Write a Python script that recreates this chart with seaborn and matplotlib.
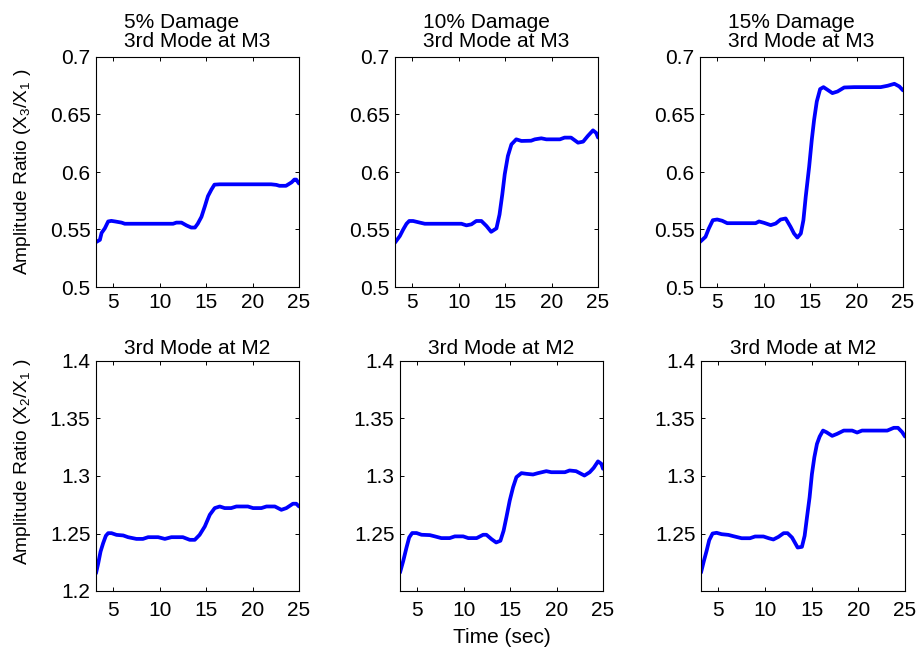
import matplotlib
matplotlib.use("Agg")
import matplotlib.pyplot as plt
from matplotlib.ticker import FuncFormatter
import seaborn as sns
import pandas as pd

# Time axis (sec) and amplitude ratios for each damage level
t_m3_5 = [3.15, 3.57, 3.75, 4.1, 4.46, 4.8, 5.2, 5.9, 6.25, 8.0, 11.45, 11.8, 12.35, 12.9, 13.4, 13.8,
          14.1, 14.5, 14.86, 15.2, 15.57, 15.9, 16.47, 19.0, 22.0, 22.56, 22.9, 23.6, 24.2, 24.5, 24.7, 25.0]
r_m3_5 = [0.539, 0.541, 0.547, 0.551, 0.557, 0.5575, 0.557, 0.556, 0.555, 0.555, 0.555, 0.556, 0.556, 0.5535,
          0.5517, 0.5517, 0.555, 0.561, 0.570, 0.579, 0.5847, 0.589, 0.5893, 0.5893, 0.5893, 0.5888, 0.588,
          0.588, 0.591, 0.5934, 0.5934, 0.590]

t_m3_10 = [3.15, 3.67, 4.03, 4.39, 4.68, 5.1, 5.82, 6.36, 8.5, 10.3, 10.84, 11.38, 11.9, 12.45, 13.0, 13.5,
           14.07, 14.4, 14.7, 14.96, 15.3, 15.68, 16.2, 16.76, 17.8, 18.2, 18.9, 19.44, 20.9, 21.4, 22.1,
           22.85, 23.4, 23.9, 24.46, 24.8, 25.0]
r_m3_10 = [0.5386, 0.5443, 0.550, 0.555, 0.5574, 0.5574, 0.556, 0.555, 0.555, 0.555, 0.5536, 0.5545, 0.5574,
           0.5574, 0.553, 0.548, 0.551, 0.563, 0.5806, 0.598, 0.6139, 0.624, 0.6284, 0.627, 0.6272, 0.6284,
           0.6293, 0.6284, 0.6284, 0.6299, 0.6299, 0.6255, 0.6264, 0.6313, 0.6362, 0.634, 0.630]

t_m3_15 = [3.15, 3.74, 4.1, 4.53, 5.0, 5.54, 6.08, 9.14, 9.5, 10.04, 10.76, 11.3, 11.83, 12.37, 12.9, 13.27,
           13.63, 14.0, 14.28, 14.53, 14.9, 15.18, 15.43, 15.72, 16.08, 16.44, 16.87, 17.4, 17.95, 18.67,
           19.75, 22.6, 23.35, 24.07, 24.6, 25.0]
r_m3_15 = [0.5392, 0.5436, 0.5509, 0.5581, 0.5587, 0.5576, 0.5555, 0.5555, 0.557, 0.5558, 0.5538, 0.5552,
           0.5587, 0.5596, 0.5523, 0.5465, 0.543, 0.5465, 0.5581, 0.5785, 0.6047, 0.6279, 0.6453, 0.6613,
           0.6721, 0.6738, 0.6715, 0.6686, 0.670, 0.6735, 0.6738, 0.6738, 0.675, 0.6767, 0.6744, 0.671]

t_m2_5 = [3.15, 3.39, 3.64, 3.92, 4.21, 4.46, 4.82, 5.36, 6.08, 6.6, 7.5, 8.2, 8.76, 9.84, 10.56, 11.27,
          12.5, 13.24, 13.78, 14.3, 14.86, 15.4, 15.93, 16.47, 17.0, 17.7, 18.26, 19.5, 20.05, 20.95, 21.5,
          22.4, 23.1, 23.64, 24.35, 24.7, 25.0]
r_m2_5 = [1.2154, 1.2241, 1.2343, 1.2416, 1.248, 1.2503, 1.2503, 1.2488, 1.2483, 1.2468, 1.2453, 1.2453,
          1.2468, 1.2468, 1.2453, 1.2468, 1.2468, 1.2445, 1.2445, 1.2488, 1.2561, 1.2663, 1.2721, 1.2735,
          1.2721, 1.2721, 1.2735, 1.2735, 1.2721, 1.2721, 1.2735, 1.2735, 1.2706, 1.2721, 1.2759, 1.2759,
          1.2735]

t_m2_10 = [3.15, 3.5, 3.85, 4.14, 4.46, 4.93, 5.47, 6.36, 6.9, 7.6, 8.5, 9.05, 9.95, 10.5, 11.4, 12.1, 12.45,
           13.0, 13.5, 13.96, 14.3, 14.6, 14.96, 15.32, 15.68, 16.22, 16.76, 17.47, 18.0, 18.9, 19.44, 20.9,
           21.4, 22.1, 23.0, 23.57, 24.0, 24.46, 24.82, 25.0]
r_m2_10 = [1.216, 1.2262, 1.2378, 1.2466, 1.2504, 1.2504, 1.2489, 1.2486, 1.2475, 1.246, 1.246, 1.2475,
           1.2475, 1.246, 1.246, 1.2489, 1.2489, 1.2451, 1.2422, 1.2437, 1.2524, 1.264, 1.2786, 1.2902,
           1.299, 1.3025, 1.3019, 1.3013, 1.3025, 1.3042, 1.3033, 1.3033, 1.3048, 1.3042, 1.3004, 1.3033,
           1.3071, 1.3127, 1.3106, 1.3063]

t_m2_15 = [3.15, 3.46, 3.75, 4.03, 4.39, 4.82, 5.36, 6.08, 6.6, 7.5, 8.4, 8.94, 9.84, 10.4, 10.9, 11.45,
           12.0, 12.42, 12.9, 13.24, 13.5, 13.96, 14.25, 14.5, 14.78, 15.03, 15.29, 15.57, 15.86, 16.22,
           16.58, 17.2, 17.72, 18.44, 19.34, 19.87, 20.4, 23.1, 23.8, 24.25, 24.7, 25.0]
r_m2_15 = [1.216, 1.2262, 1.2349, 1.2442, 1.25, 1.2506, 1.2494, 1.2488, 1.2477, 1.2459, 1.2459, 1.2474,
           1.2474, 1.2459, 1.2448, 1.2471, 1.2503, 1.2503, 1.2465, 1.2416, 1.2378, 1.2384, 1.248, 1.264,
           1.2814, 1.3017, 1.3163, 1.3279, 1.3343, 1.3395, 1.3381, 1.3349, 1.3366, 1.3395, 1.3395, 1.3378,
           1.3395, 1.3395, 1.3419, 1.3419, 1.3381, 1.3343]

top_titles = ["5% Damage\n3rd Mode at M3", "10% Damage\n3rd Mode at M3", "15% Damage\n3rd Mode at M3"]
bottom_title = "3rd Mode at M2"
x_ticks = [5, 10, 15, 20, 25]
y_ticks_m3 = [0.5, 0.55, 0.6, 0.65, 0.7]
y_ticks_m2_full = [1.2, 1.25, 1.3, 1.35, 1.4]
y_ticks_m2 = [1.25, 1.3, 1.35, 1.4]

sns.set_theme(style="white")
plt.rcParams.update({
    "font.family": ["Liberation Sans", "DejaVu Sans"],
    "mathtext.default": "regular",
    "axes.edgecolor": "black",
    "axes.linewidth": 0.8,
    "xtick.direction": "in",
    "ytick.direction": "in",
    "xtick.top": True,
    "ytick.right": True,
    "xtick.bottom": True,
    "ytick.left": True,
    "xtick.major.size": 3,
    "ytick.major.size": 3,
    "xtick.major.width": 0.7,
    "ytick.major.width": 0.7,
    "xtick.color": "black",
    "ytick.color": "black",
    "text.color": "black",
    "axes.labelcolor": "black",
})

W, H = 919, 654
fig = plt.figure(figsize=(W / 100, H / 100), dpi=100)
fig.patch.set_facecolor("white")


def add_ax(x0, x1, ytop, ybot):
    return fig.add_axes([x0 / W, 1 - ybot / H, (x1 - x0) / W, (ybot - ytop) / H])


fmt = FuncFormatter(lambda v, p: f"{v:g}")

top_axes = [add_ax(96, 299, 57, 287), add_ax(395, 598, 57, 287), add_ax(700, 903, 57, 287)]
bot_axes = [add_ax(96, 299, 361, 591), add_ax(400, 603, 361, 591), add_ax(701, 905, 361, 591)]

top_series = [(t_m3_5, r_m3_5), (t_m3_10, r_m3_10), (t_m3_15, r_m3_15)]
bot_series = [(t_m2_5, r_m2_5), (t_m2_10, r_m2_10), (t_m2_15, r_m2_15)]

FS = 15

for i, (ax, (t, r)) in enumerate(zip(top_axes, top_series)):
    df = pd.DataFrame({"Time": t, "Ratio": r})
    sns.lineplot(data=df, x="Time", y="Ratio", ax=ax, color="#0000ff", linewidth=2.7,
                 estimator=None, sort=False)
    ax.set_xlim(3.15, 25)
    ax.set_ylim(0.5, 0.7)
    ax.set_xticks(x_ticks)
    ax.set_yticks(y_ticks_m3)
    ax.yaxis.set_major_formatter(fmt)
    ax.set_xlabel("")
    ax.set_ylabel("")
    ax.tick_params(labelsize=FS, pad=4)
    ax.set_title(top_titles[i], fontsize=FS, pad=7, multialignment="left", linespacing=1.05)
    for s in ax.spines.values():
        s.set_visible(True)

for i, (ax, (t, r)) in enumerate(zip(bot_axes, bot_series)):
    df = pd.DataFrame({"Time": t, "Ratio": r})
    sns.lineplot(data=df, x="Time", y="Ratio", ax=ax, color="#0000ff", linewidth=2.7,
                 estimator=None, sort=False)
    ax.set_xlim(3.15, 25)
    ax.set_ylim(1.2, 1.4)
    ax.set_xticks(x_ticks)
    ax.set_yticks(y_ticks_m2_full if i == 0 else y_ticks_m2)
    ax.yaxis.set_major_formatter(fmt)
    ax.set_xlabel("")
    ax.set_ylabel("")
    ax.tick_params(labelsize=FS, pad=4)
    ax.tick_params(axis="x", pad=7)
    ax.set_title(bottom_title, fontsize=FS, pad=5)
    for s in ax.spines.values():
        s.set_visible(True)

bot_axes[1].set_xlabel("Time (sec)", fontsize=FS, labelpad=6)

fig.text(23 / W, 1 - 172 / H, "Amplitude Ratio (X$_3$/X$_1$ )", rotation=90,
         ha="center", va="center", fontsize=13.8)
fig.text(23 / W, 1 - 462 / H, "Amplitude Ratio (X$_2$/X$_1$ )", rotation=90,
         ha="center", va="center", fontsize=13.8)

fig.savefig("out.png", dpi=100, facecolor="white")
